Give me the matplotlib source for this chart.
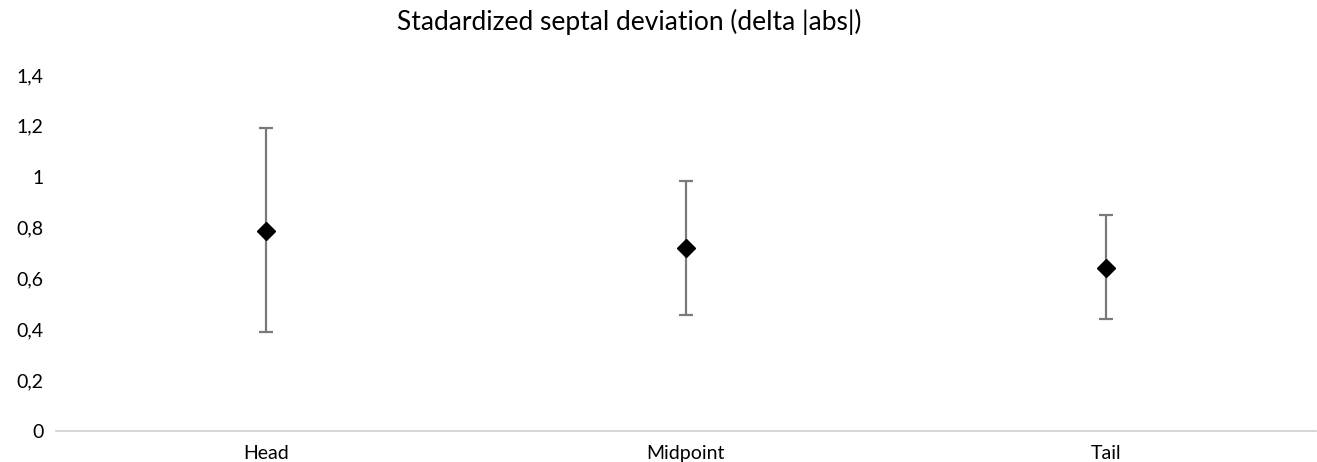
import matplotlib
matplotlib.use("Agg")
import matplotlib.pyplot as plt
import numpy as np

categories = ["Head", "Midpoint", "Tail"]
means = [0.788, 0.718, 0.642]
upper = [1.190, 0.984, 0.849]
lower = [0.388, 0.456, 0.440]
yticks = [0, 0.2, 0.4, 0.6, 0.8, 1.0, 1.2, 1.4]
ytick_labels = ["0", "0,2", "0,4", "0,6", "0,8", "1", "1,2", "1,4"]
title = "Stadardized septal deviation (delta |abs|)"

plt.rcParams['font.family'] = ['Lato', 'DejaVu Sans']

fig = plt.figure(figsize=(13.17, 4.62), dpi=100)
ax = fig.add_axes([0.0425, 0.067, 0.9565, 0.7707])

x = np.arange(len(categories))
m = np.array(means)
yerr = np.vstack([m - np.array(lower), np.array(upper) - m])
ax.errorbar(x, m, yerr=yerr, fmt='none', ecolor='#7a7a7a', elinewidth=1.6,
            capsize=5, capthick=1.6, zorder=2)
ax.plot(x, m, linestyle='none', marker='D', markersize=9, color='black', zorder=3)

ax.set_xlim(-0.5, len(categories) - 0.5)
ax.set_ylim(0, 1.4)
ax.set_yticks(yticks)
ax.set_yticklabels(ytick_labels, fontsize=14, color='black')
ax.set_xticks(x)
ax.set_xticklabels(categories, fontsize=14, color='black')
ax.tick_params(axis='both', length=0)
ax.tick_params(axis='y', pad=9)
ax.tick_params(axis='x', pad=10)
for s in ['top', 'right', 'left']:
    ax.spines[s].set_visible(False)
ax.spines['bottom'].set_color('#d0d0d0')
ax.spines['bottom'].set_linewidth(1.2)

fig.text(0.4776, 0.953, title, ha='center', va='center', fontsize=19, color='black')

fig.savefig("out.png", dpi=100, facecolor='white')
